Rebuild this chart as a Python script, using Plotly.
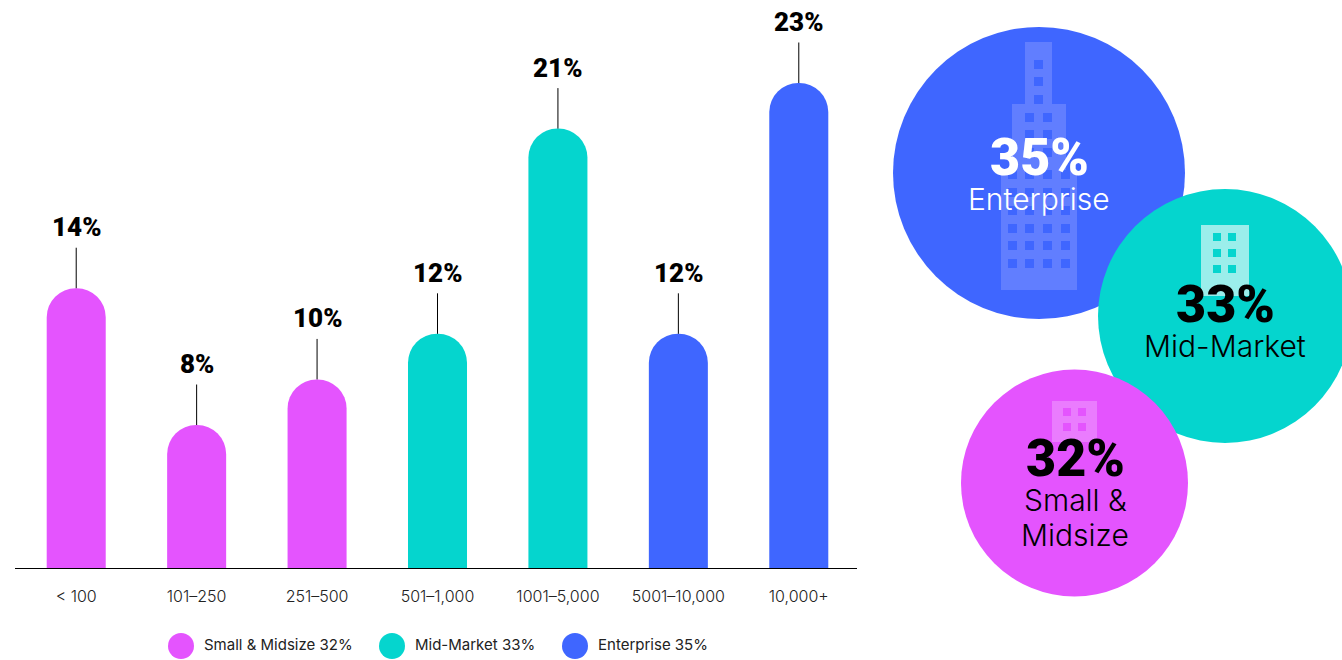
import plotly.graph_objects as go

# Company-size breakdown
size_bands = ["< 100", "101–250", "251–500", "501–1,000", "1001–5,000", "5001–10,000", "10,000+"]
band_shares = [14, 8, 10, 12, 21, 12, 23]
band_tiers = ["small", "small", "small", "mid", "mid", "ent", "ent"]

tier_names = {"small": "Small & Midsize", "mid": "Mid-Market", "ent": "Enterprise"}
tier_shares = {"small": 32, "mid": 33, "ent": 35}
tier_colors = {"small": "#E454FE", "mid": "#05D5CE", "ent": "#3F66FF"}

W, H = 1342, 660
FONT = "Inter"
HEAVY_FONT = "Roboto"

fig = go.Figure()

fig.add_trace(go.Bar(
    x=size_bands,
    y=band_shares,
    width=0.49,
    marker=dict(color=[tier_colors[t] for t in band_tiers], line_width=0, cornerradius=29.5),
    hoverinfo="skip",
    showlegend=False,
    xaxis="x",
    yaxis="y",
))
# Full-page pixel axes carry the tier bubbles and the legend
fig.add_trace(go.Scatter(x=[0], y=[0], mode="markers", marker_opacity=0, hoverinfo="skip",
                         showlegend=False, xaxis="x2", yaxis="y2"))

shapes = []
annotations = []


def rect(x0, y0, x1, y1, color):
    shapes.append(dict(type="rect", xref="x2", yref="y2", x0=x0, y0=y0, x1=x1, y1=y1,
                       fillcolor=color, line_width=0, layer="above"))


def circle(cx, cy, r, color):
    shapes.append(dict(type="circle", xref="x2", yref="y2", x0=cx - r, y0=cy - r, x1=cx + r, y1=cy + r,
                       fillcolor=color, line_width=0, layer="above"))


def text(x, y, s, size, color="#000000", weight=400, xanchor="center", family=FONT):
    annotations.append(dict(xref="x2", yref="y2", x=x, y=y, text=s, showarrow=False, xanchor=xanchor,
                            yanchor="middle", font=dict(family=family, size=size, color=color, weight=weight)))


def windows(xs, ys, w, h, color):
    for wx in xs:
        for wy in ys:
            rect(wx, wy, wx + w, wy + h, color)


# Baseline under the bars
shapes.append(dict(type="line", xref="x2", yref="y2", x0=15, x1=857, y0=568.5, y1=568.5,
                   line=dict(color="#000000", width=1), layer="above"))

# Enterprise bubble with its tower
ent = tier_colors["ent"]
circle(1039, 173, 146, ent)
rect(1025, 42, 1052, 104, "#617EFF")
rect(1012, 104, 1066, 170, "#617EFF")
rect(1001, 170, 1077, 290, "#617EFF")
windows([1034], [60, 77, 95], 9, 9, ent)
windows([1025, 1043], [113, 130, 148], 9, 9, ent)
windows([1008, 1025, 1043, 1061], [170, 188, 206, 224, 241, 259], 9, 9, ent)

# Mid-Market bubble with its block
mid = tier_colors["mid"]
circle(1225, 316, 127, mid)
rect(1201, 225, 1249, 296, "#9BEEEB")
windows([1213, 1228], [233, 249, 265], 8, 8, mid)

# Small & Midsize bubble with its block
small = tier_colors["small"]
circle(1074.5, 483, 113.5, small)
rect(1052, 401, 1097, 442, "#EA7CFE")
windows([1063, 1078], [408, 423], 8, 8, small)

text(1039, 157, f"{tier_shares['ent']}%", 52, "#FFFFFF", 900, family=HEAVY_FONT)
text(1039, 199, tier_names["ent"], 30, "#FFFFFF", 300)
text(1225, 304, f"{tier_shares['mid']}%", 52, "#000000", 900, family=HEAVY_FONT)
text(1225, 346, tier_names["mid"], 30, "#000000", 300)
text(1075, 458, f"{tier_shares['small']}%", 52, "#000000", 900, family=HEAVY_FONT)
text(1075, 500, "Small &", 30, "#000000", 300)
text(1075, 535, "Midsize", 30, "#000000", 300)

# Legend row
for key, dot_x in zip(["small", "mid", "ent"], [181, 392, 575]):
    circle(dot_x, 646, 13, tier_colors[key])
    text(dot_x + 21, 644, f"{tier_names[key]} {tier_shares[key]}%", 15, "#222222", 400, "left")

# Value callouts with leader lines above each bar
for band, share in zip(size_bands, band_shares):
    annotations.append(dict(
        xref="x", yref="y", x=band, y=share, text=f"{share}%",
        showarrow=True, arrowhead=0, arrowwidth=1, arrowcolor="#000000",
        ax=0, ay=-61, standoff=0, startstandoff=0, borderpad=5,
        font=dict(family=HEAVY_FONT, size=26, color="#000000", weight=900),
    ))

fig.update_layout(
    width=W, height=H,
    autosize=False,
    margin=dict(l=0, r=0, t=0, b=0),
    paper_bgcolor="#FFFFFF",
    plot_bgcolor="rgba(0,0,0,0)",
    font=dict(family=FONT),
    bargap=0.51,
    xaxis=dict(domain=[16 / W, 859 / W], anchor="y", type="category", showline=False,
               showgrid=False, zeroline=False, ticks="outside", ticklen=14, tickcolor="rgba(0,0,0,0)",
               tickfont=dict(family=FONT, size=16, color="#222222", weight=300), fixedrange=True),
    yaxis=dict(domain=[92 / H, 1], anchor="x", range=[1.73, 26.64], visible=False, fixedrange=True),
    xaxis2=dict(domain=[0, 1], anchor="y2", range=[0, W], visible=False, fixedrange=True),
    yaxis2=dict(domain=[0, 1], anchor="x2", range=[H, 0], visible=False, fixedrange=True),
    shapes=shapes,
    annotations=annotations,
    showlegend=False,
)

fig.write_html("out.html", config={"displayModeBar": False})
